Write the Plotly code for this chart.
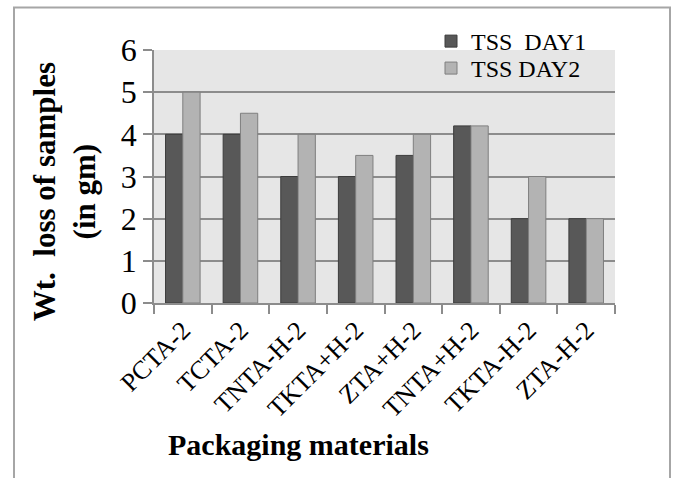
import plotly.graph_objects as go

categories = ["PCTA-2", "TCTA-2", "TNTA-H-2", "TKTA+H-2", "ZTA+H-2", "TNTA+H-2", "TKTA-H-2", "ZTA-H-2"]
day1 = [4, 4, 3, 3, 3.5, 4.2, 2, 2]
day2 = [5, 4.5, 4, 3.5, 4, 4.2, 3, 2]
series_names = ["TSS  DAY1", "TSS DAY2"]
y_ticks = [0, 1, 2, 3, 4, 5, 6]

FONT = "Liberation Serif"

fig = go.Figure()
fig.add_trace(go.Bar(x=categories, y=day1, name=series_names[0], legend="legend",
                     marker=dict(color="#585858", line=dict(color="#3c3c3c", width=1))))
fig.add_trace(go.Bar(x=categories, y=day2, name=series_names[1], legend="legend2",
                     marker=dict(color="#b3b3b3", line=dict(color="#7f7f7f", width=1))))

L, R, T, B = 154, 58, 49.5, 175
W, H = 673, 478
pw, ph = W - L - R, H - T - B

def px(x):
    return (x - L) / pw

def py(y):
    return (H - B - y) / ph

leg_common = dict(xanchor="left", yanchor="middle", bgcolor="rgba(0,0,0,0)",
                  font=dict(family=FONT, size=24), itemwidth=30)

fig.update_layout(
    width=W, height=H,
    margin=dict(l=L, r=R, t=T, b=B),
    paper_bgcolor="white",
    plot_bgcolor="#e6e6e6",
    barmode="group",
    bargap=0.4,
    bargroupgap=0,
    font=dict(family=FONT, color="black"),
    showlegend=True,
    legend=dict(x=px(431), y=py(41), **leg_common),
    legend2=dict(x=px(431), y=py(68), **leg_common),
    xaxis=dict(
        automargin=False,
        showgrid=False, showline=True, linecolor="#8c8c8c", linewidth=1.5,
        ticks="outside", tickson="boundaries", ticklen=9, tickcolor="#8c8c8c", tickwidth=1.5,
        tickangle=-45, tickfont=dict(family=FONT, size=26),
    ),
    yaxis=dict(
        automargin=False,
        range=[0, 6], tickvals=y_ticks, showgrid=True, gridcolor="#8c8c8c", gridwidth=1.5,
        showline=True, linecolor="#8c8c8c", linewidth=1.5,
        ticks="outside", ticklen=9, tickcolor="#8c8c8c", tickwidth=1.5,
        tickfont=dict(family=FONT, size=32),
        zeroline=False,
    ),
    annotations=[
        dict(text="<b>Packaging materials</b>", xref="paper", yref="paper",
             x=px(298), y=py(445), xanchor="center", yanchor="middle", showarrow=False,
             font=dict(family=FONT, size=30)),
        dict(text="<b>Wt.  loss of samples<br>(in gm)</b>", xref="paper", yref="paper",
             x=px(64), y=py(192), xanchor="center", yanchor="middle", showarrow=False,
             textangle=-90, font=dict(family=FONT, size=31)),
    ],
    shapes=[dict(type="rect", xref="paper", yref="paper",
                 x0=px(14), x1=px(670), y0=py(490), y1=py(7),
                 line=dict(color="#a6a6a6", width=2), fillcolor="rgba(0,0,0,0)", layer="below")],
)

fig.write_html("out.html", config={"displayModeBar": False},
               post_script="document.body.style.margin='0px';document.body.style.overflow='hidden';")
